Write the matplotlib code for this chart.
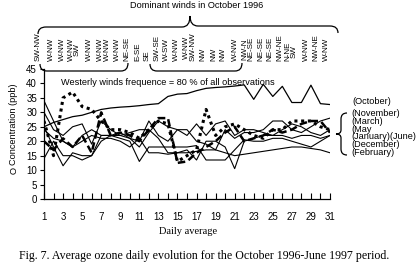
import numpy as np
import matplotlib.pyplot as plt
from matplotlib.path import Path
from matplotlib.patches import PathPatch

days = np.arange(1, 32)

# monthly daily averages of ozone (ppb)
october = [25, 26.5, 27.5, 28.5, 29, 30, 31, 31.5, 31.8, 32, 32.3, 32.7, 33, 35.5, 36.3,
           36.5, 37.5, 38.3, 38.6, 38.8, 39.1, 39.5, 34.5, 39.7, 35.5, 39, 33.4, 33.4, 39.4, 33, 32.7]
november = [27, 15, 35, 37, 32, 31, 27, 24, 24, 23, 21, 24, 27, 26, 13, 15, 17, 31, 22, 25,
            26, 24, 22, 21, 24, 24, 27, 27, 27, 25, 24]
march = [20, 17, 21, 18, 22, 16, 30, 22, 23, 22, 20, 24, 28, 28, 12.5, 13, 16, 18, 20, 23,
         25, 20, 21, 22, 24, 23, 24, 26, 27, 27, 23]
may = [34, 27, 20, 18, 22, 24, 22, 22, 23, 21, 18, 23, 27, 25, 24, 22, 26, 22, 26, 27,
       22, 24, 24, 23, 22, 24, 26, 25, 23, 22, 24]
january = [30, 24, 22, 25, 26, 19, 27, 24, 22, 21, 20, 27, 22, 20, 24, 24, 20, 19, 17, 24,
           21, 23, 23, 24, 27, 27, 24, 23, 25, 27, 28]
june = [25, 18, 11.5, 16, 15, 15, 20, 22, 22, 23, 24, 24, 21, 16, 16, 17, 13.5, 20, 20, 18,
        10.5, 20, 21, 22, 22, 22, 21, 22, 22, 21, 22]
december = [14, 20, 15, 15, 13.5, 15, 22, 22, 21, 20, 13, 18, 18, 18, 18, 18, 18.5, 13.5, 13.5, 13.5,
            17, 20.5, 20, 20, 21, 21, 20, 19, 18, 20, 22]
february = [24, 21, 20, 18, 20, 22, 21, 21, 20, 18, 21, 16, 16, 15.5, 16, 16, 16.5, 17, 17, 16,
            15, 15.5, 16, 16.5, 17, 17.5, 18, 18, 17.5, 17, 16]

# dominant wind directions in October 1996 and where they sit along the day axis
winds = ['SW-NW', 'W-NW', 'W-NW', 'W-NW\nSW', 'W-NW', 'W-NW', 'W-NW', 'W-NW', 'NE-SE', 'E-SE',
         'SE', 'SW-SE', 'W-SW', 'W-NW', 'W-NW\nSW-NW', 'NW', 'NW', 'NW', 'W-NW', 'NW-N\nNE-SE',
         'NE-SE', 'NE-SE', 'NW-NE', 'N-NE\nSW', 'W-NW', 'NW-NE', 'W-NW']
wind_pos = [0.4, 1.8, 2.9, 4.2, 5.8, 6.9, 7.7, 8.7, 9.7, 10.8, 11.8, 12.9, 13.8, 14.9, 16.3,
            17.7, 18.8, 19.8, 21.1, 22.4, 23.7, 24.7, 25.7, 26.9, 28.5, 29.5, 30.6]

W, H = 418, 271
fig = plt.figure(figsize=(W / 100, H / 100), dpi=100)
ax = fig.add_axes([44 / W, 1 - 199 / H, (330 - 44) / W, (199 - 69) / H])

sans = 'Liberation Sans'
serif = 'Liberation Serif'

ax.plot(days, october, color='black', lw=0.9)
ax.plot(days, november, color='black', lw=2.2, ls=(0, (1, 1.2)))
ax.plot(days, march, color='black', lw=1.8, ls=(0, (3, 1.5)))
ax.plot(days, may, color='black', lw=0.8)
ax.plot(days, january, color='black', lw=0.8)
ax.plot(days, june, color='black', lw=0.8)
ax.plot(days, december, color='black', lw=0.8)
ax.plot(days, february, color='black', lw=0.8)

ax.set_xlim(1, 31)
ax.set_ylim(0, 45)
ax.set_yticks(range(0, 50, 5))
ax.set_xticks(range(1, 32, 2))
ax.set_xticks(days, minor=True)
for s in ['top', 'right']:
    ax.spines[s].set_visible(False)
for s in ['left', 'bottom']:
    ax.spines[s].set_linewidth(0.9)
ax.tick_params(axis='y', direction='out', length=3, width=0.8, labelsize=7, pad=2)
ax.tick_params(axis='x', which='both', direction='in', length=4, width=0.8, labelsize=7, pad=9)
for lab in ax.get_xticklabels() + ax.get_yticklabels():
    lab.set_fontfamily(sans)

# wind direction labels above the plot
for w, p in zip(winds, wind_pos):
    ax.text(p, 47.6, w, rotation=90, ha='center', va='bottom', fontsize=5.8,
            family=sans, multialignment='center', linespacing=0.8, clip_on=False)

ax.text(2.8, 40.3, 'Westerly winds frequence = 80 % of all observations',
        fontsize=6.6, family=sans, va='center')

# overlay in pixel coordinates for braces and free text
ov = fig.add_axes([0, 0, 1, 1], facecolor='none')
ov.set_xlim(0, W)
ov.set_ylim(H, 0)
ov.axis('off')

C3 = Path.CURVE3
def brace(points, codes):
    ov.add_patch(PathPatch(Path(points, codes), fill=False, lw=0.9, color='black'))

brace([(38, 34), (38, 27), (46, 27), (182, 27), (190, 27), (190, 16),
       (190, 26), (198, 26), (330, 26), (338, 26), (338, 33)],
      [Path.MOVETO, C3, C3, Path.LINETO, C3, C3, C3, C3, Path.LINETO, C3, C3])
brace([(40, 64), (40, 71), (47, 71), (121, 71), (128, 71), (128, 63)],
      [Path.MOVETO, C3, C3, Path.LINETO, C3, C3])
brace([(150, 64), (150, 71), (157, 71), (235, 71), (242, 71), (242, 63)],
      [Path.MOVETO, C3, C3, Path.LINETO, C3, C3])
brace([(347, 113), (341, 113), (341, 119), (341, 130), (341, 134), (336, 134),
       (341, 134), (341, 138), (341, 149), (341, 155), (347, 155)],
      [Path.MOVETO, C3, C3, Path.LINETO, C3, C3, C3, C3, Path.LINETO, C3, C3])

ov.text(197, 6, 'Dominant winds in October 1996', fontsize=6.6, family=sans,
        ha='center', va='center')
ov.text(352, 102, '(October)', fontsize=6.6, family=sans, va='center')
ov.text(351, 133, '(November)\n(March)\n(May\n(January)(June)\n(December)\n(February)',
        fontsize=6.6, family=sans, va='center', linespacing=0.85)

ov.text(14, 124, 'Concentration (ppb)', rotation=90, fontsize=6.6, family=sans,
        ha='center', va='center')
ov.text(14, 171, 'O', rotation=90, fontsize=6.6, family=sans, ha='center', va='center')

ov.text(188, 232, 'Daily average', fontsize=7.5, family=serif, ha='center', va='center')
ov.text(204, 256, 'Fig. 7. Average ozone daily evolution for the October 1996-June 1997 period.',
        fontsize=8.6, family=serif, ha='center', va='center')

fig.savefig('out.png', dpi=100)
